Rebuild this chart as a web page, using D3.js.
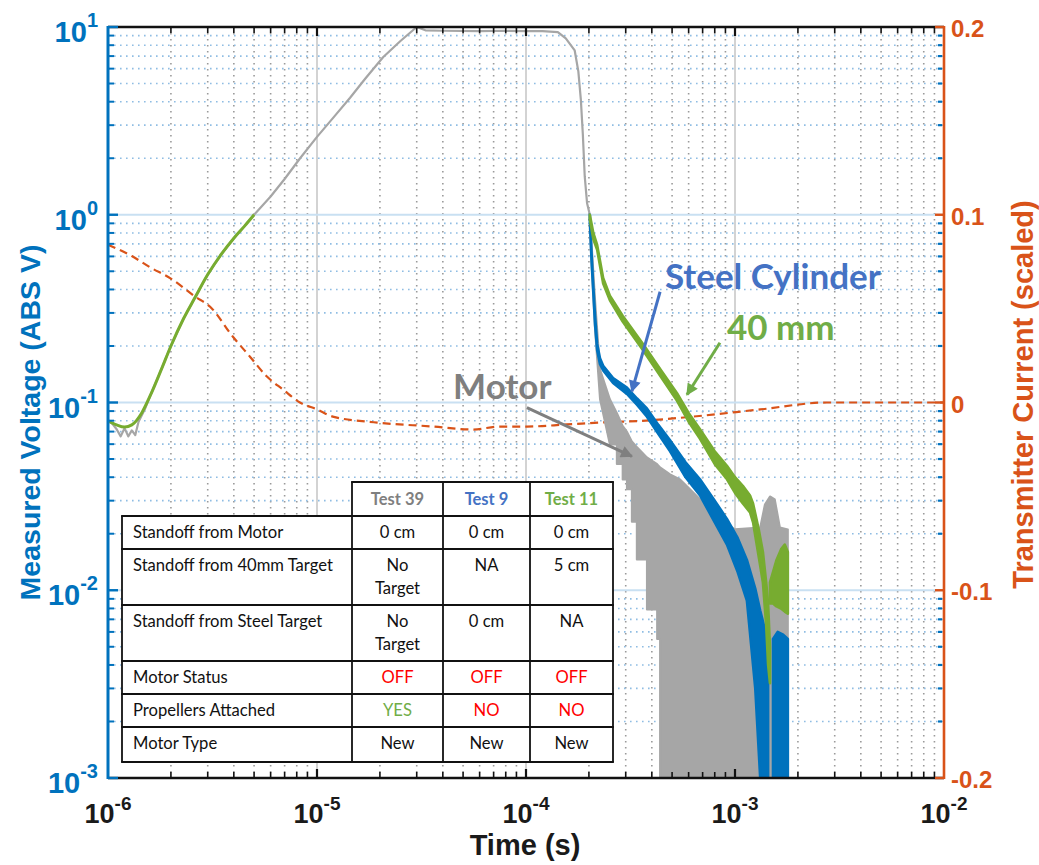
<!DOCTYPE html>
<html>
<head>
<meta charset="utf-8">
<script src="https://cdn.jsdelivr.net/npm/d3@7/dist/d3.min.js"></script>
<style>
  html, body { margin: 0; padding: 0; background: #fff; }
  svg { display: block; }
</style>
</head>
<body>
<svg id="chart" width="1039" height="865"></svg>
<script>
// ---- Data -------------------------------------------------------------
// Test 39 (motor only): rising edge, plateau and turn-off
const motorTime = [1e-6, 1.05e-6, 1.1e-6, 1.15e-6, 1.2e-6, 1.25e-6, 1.3e-6, 1.35e-6, 1.4e-6, 1.5e-6,
  1.6e-6, 1.8e-6, 2e-6, 2.3e-6, 2.6e-6, 3e-6, 3.5e-6, 4e-6, 4.5e-6, 5e-6,
  6e-6, 7e-6, 8.3e-6, 1e-5, 1.2e-5, 1.44e-5, 1.7e-5, 2.07e-5, 2.5e-5, 3.0e-5,
  3.3e-5, 4e-5, 6e-5, 8e-5, 1e-4, 1.2e-4, 1.42e-4, 1.55e-4, 1.71e-4, 1.78e-4,
  1.83e-4, 1.87e-4, 1.91e-4, 1.96e-4, 2.02e-4];
const motorVolt = [0.080, 0.077, 0.072, 0.066, 0.073, 0.066, 0.071, 0.067, 0.079, 0.092,
  0.11, 0.15, 0.2, 0.28, 0.36, 0.48, 0.62, 0.75, 0.87, 1.0,
  1.25, 1.55, 2.0, 2.6, 3.3, 4.2, 5.3, 6.9, 8.4, 10,
  9.6, 9.55, 9.5, 9.55, 9.5, 9.5, 9.4, 8.7, 7.5, 5.8,
  4.1, 2.7, 1.6, 1.15, 1.0];

// Test 39 decay: spread of the noisy record (upper / lower values, stepped)
const motorTailTime = [2.02e-4, 2.14e-4, 2.26e-4, 2.52e-4, 2.72e-4, 2.72e-4, 2.9e-4, 2.9e-4,
  3.04e-4, 3.04e-4, 3.21e-4, 3.21e-4, 3.39e-4, 3.39e-4, 3.79e-4, 3.79e-4, 4.24e-4, 4.24e-4,
  4.38e-4, 4.38e-4, 4.89e-4, 5.46e-4, 6.09e-4, 6.80e-4, 7.59e-4, 8.47e-4,
  1.0e-3, 1.32e-3, 1.39e-3, 1.47e-3, 1.55e-3, 1.64e-3, 1.79e-3];
const motorTailHigh = [1.0, 0.353, 0.150, 0.104, 0.088, 0.088, 0.075, 0.075,
  0.070, 0.070, 0.062, 0.062, 0.058, 0.058, 0.051, 0.051, 0.047, 0.047,
  0.0451, 0.0451, 0.0414, 0.0389, 0.0345, 0.0305, 0.0270, 0.0239,
  0.0211, 0.0216, 0.0286, 0.0316, 0.0305, 0.0216, 0.0211];
const motorTailLow = [0.83, 0.244, 0.104, 0.0598, 0.0598, 0.047, 0.047, 0.0389,
  0.0389, 0.0345, 0.0345, 0.0232, 0.0232, 0.0146, 0.0146, 0.0079, 0.0079, 0.0055,
  0.0055, 0.001, 0.001, 0.001, 0.001, 0.001, 0.001, 0.001,
  0.001, 0.001, 0.001, 0.001, 0.001, 0.001, 0.001];

// Test 9 (steel cylinder) decay
const steelTime = [2.02e-4, 2.06e-4, 2.09e-4, 2.14e-4, 2.19e-4, 2.26e-4, 2.34e-4, 2.61e-4, 3.04e-4,
  3.4e-4, 3.79e-4, 4.3e-4, 4.89e-4, 5.8e-4, 6.8e-4, 8.0e-4, 9.15e-4, 1.03e-3, 1.14e-3,
  1.25e-3, 1.32e-3, 1.40e-3, 1.44e-3];
const steelHigh = [1.0, 0.62, 0.45, 0.29, 0.205, 0.172, 0.157, 0.135, 0.12,
  0.105, 0.093, 0.076, 0.063, 0.048, 0.039, 0.030, 0.024, 0.019, 0.0145,
  0.0102, 0.0078, 0.006, 0.005];
const steelLow = [0.95, 0.56, 0.42, 0.26, 0.19, 0.16, 0.148, 0.127, 0.111,
  0.097, 0.084, 0.068, 0.055, 0.040, 0.032, 0.023, 0.0175, 0.0125, 0.0088,
  0.003, 0.001, 0.001, 0.001];
const steelLateTime = [1.52e-3, 1.6e-3, 1.7e-3, 1.79e-3];
const steelLateHigh = [0.0055, 0.006, 0.0058, 0.0055];
const steelLateLow = [0.001, 0.001, 0.001, 0.001];

// Test 11 (40 mm target): rising edge and decay
const targetRiseTime = [1e-6, 1.1e-6, 1.2e-6, 1.3e-6, 1.45e-6, 1.6e-6, 1.8e-6, 2e-6, 2.3e-6, 2.6e-6,
  3e-6, 3.5e-6, 4e-6, 4.5e-6, 5e-6];
const targetRiseVolt = [0.080, 0.076, 0.074, 0.076, 0.088, 0.11, 0.15, 0.2, 0.28, 0.36,
  0.48, 0.62, 0.75, 0.87, 1.0];
const targetTime = [2.02e-4, 2.1e-4, 2.19e-4, 2.34e-4, 2.52e-4, 2.9e-4, 3.63e-4, 4.4e-4, 5.28e-4,
  6.0e-4, 6.8e-4, 8.0e-4, 9.15e-4, 1.0e-3, 1.09e-3, 1.18e-3, 1.22e-3, 1.3e-3, 1.36e-3,
  1.41e-3, 1.44e-3, 1.47e-3];
const targetHigh = [1.0, 0.8, 0.69, 0.46, 0.37, 0.29, 0.205, 0.15, 0.112,
  0.088, 0.072, 0.055, 0.046, 0.040, 0.036, 0.032, 0.029, 0.021, 0.016,
  0.011, 0.0085, 0.005];
const targetLow = [0.95, 0.74, 0.65, 0.43, 0.35, 0.27, 0.19, 0.138, 0.102,
  0.079, 0.064, 0.047, 0.039, 0.033, 0.029, 0.026, 0.023, 0.015, 0.011,
  0.0065, 0.004, 0.0032];
const targetLateTime = [1.47e-3, 1.52e-3, 1.58e-3, 1.66e-3, 1.73e-3, 1.79e-3];
const targetLateHigh = [0.011, 0.0125, 0.0145, 0.0165, 0.0175, 0.016];
const targetLateLow = [0.0085, 0.0085, 0.0082, 0.008, 0.0077, 0.0075];

// Transmitter current (right axis, scaled)
const currentTime = [1e-6, 1.3e-6, 1.59e-6, 2.0e-6, 2.61e-6, 3.08e-6, 3.96e-6, 4.78e-6, 5.76e-6, 6.88e-6,
  8.29e-6, 1.0e-5, 1.19e-5, 1.94e-5, 3.59e-5, 5.57e-5, 7.51e-5, 1.01e-4, 1.57e-4, 2.26e-4,
  3.9e-4, 6.3e-4, 1.32e-3, 2.75e-3, 5.7e-3, 1e-2];
const currentScaled = [0.084, 0.078, 0.072, 0.066, 0.0564, 0.051, 0.035, 0.0244, 0.0138, 0.0069,
  0.0, -0.0037, -0.0075, -0.0107, -0.0128, -0.0144, -0.0128, -0.0128, -0.0117, -0.0107,
  -0.0095, -0.0075, -0.0037, 0.0, 0.0, 0.0];

// Axis ticks
const timeDecades = [1e-6, 1e-5, 1e-4, 1e-3, 1e-2];
const timeExponents = ["-6", "-5", "-4", "-3", "-2"];
const voltDecades = [1e-3, 1e-2, 1e-1, 1e0, 1e1];
const voltExponents = ["-3", "-2", "-1", "0", "1"];
const currentTicks = [-0.2, -0.1, 0, 0.1, 0.2];
const currentTickLabels = ["-0.2", "-0.1", "0", "0.1", "0.2"];

// Test conditions table
const tableHeader = ["Test 39", "Test 9", "Test 11"];
const tableRows = [
  ["Standoff from Motor", "0 cm", "0 cm", "0 cm"],
  ["Standoff from 40mm Target", "No|Target", "NA", "5 cm"],
  ["Standoff from Steel Target", "No|Target", "0 cm", "NA"],
  ["Motor Status", "OFF", "OFF", "OFF"],
  ["Propellers Attached", "YES", "NO", "NO"],
  ["Motor Type", "New", "New", "New"]
];

// Callouts: label anchor and arrow (time, volts)
const callouts = [
  { text: "Steel Cylinder", color: "#4472C4", at: [4.62e-4, 0.40], from: [4.38e-4, 0.389], to: [3.21e-4, 0.1145] },
  { text: "40 mm", color: "#70AD47", at: [9.15e-4, 0.214], from: [8.47e-4, 0.208], to: [5.89e-4, 0.110] },
  { text: "Motor", color: "#7F7F7F", at: [4.48e-5, 0.104], from: [1.01e-4, 0.094], to: [3.21e-4, 0.0517] }
];

// ---- Layout -------------------------------------------------------------
const plot = { left: 108, right: 944, top: 27, bottom: 778 };
const COLORS = {
  leftAxis: "#0072BD", rightAxis: "#D95319",
  motor: "#A6A6A6", steel: "#0072BD", target: "#77AC30", current: "#D95319"
};
const tickFont = "'Liberation Sans', Arial, Helvetica, sans-serif";
const noteFont = "Lato, 'Open Sans', sans-serif";

const svg = d3.select("#chart");
svg.append("rect").attr("width", 1039).attr("height", 865).attr("fill", "#fff");

const x = d3.scaleLog().domain([1e-6, 1e-2]).range([plot.left, plot.right]);
const y = d3.scaleLog().domain([1e-3, 1e1]).range([plot.bottom, plot.top]);
const y2 = d3.scaleLinear().domain([-0.2, 0.2]).range([plot.bottom, plot.top]);

const minorOf = decades => decades.slice(0, -1).flatMap(d => d3.range(2, 10).map(k => k * d));
const timeMinor = minorOf(timeDecades);
const voltMinor = minorOf(voltDecades);

// ---- Grid -----------------------------------------------------------------
const grid = svg.append("g");
grid.selectAll(".vmin").data(timeMinor).join("line")
  .attr("x1", d => x(d)).attr("x2", d => x(d))
  .attr("y1", plot.top).attr("y2", plot.bottom)
  .attr("stroke", "#9a9a9a").attr("stroke-width", 1.6)
  .attr("stroke-dasharray", "1.6 4.4");
grid.selectAll(".hmin").data(voltMinor).join("line")
  .attr("x1", plot.left).attr("x2", plot.right)
  .attr("y1", d => y(d)).attr("y2", d => y(d))
  .attr("stroke", "#8fbde3").attr("stroke-width", 1.6)
  .attr("stroke-dasharray", "1.6 4.4");
grid.selectAll(".vmaj").data(timeDecades.slice(1, -1)).join("line")
  .attr("x1", d => x(d)).attr("x2", d => x(d))
  .attr("y1", plot.top).attr("y2", plot.bottom)
  .attr("stroke", "#cfcfcf").attr("stroke-width", 1.8);
grid.selectAll(".hmaj").data(voltDecades.slice(1, -1)).join("line")
  .attr("x1", plot.left).attr("x2", plot.right)
  .attr("y1", d => y(d)).attr("y2", d => y(d))
  .attr("stroke", "#c9e0f2").attr("stroke-width", 1.8);

// ---- Data marks -----------------------------------------------------------
svg.append("clipPath").attr("id", "plotClip").append("rect")
  .attr("x", plot.left).attr("y", plot.top - 2)
  .attr("width", plot.right - plot.left).attr("height", plot.bottom - plot.top + 2);
const marks = svg.append("g").attr("clip-path", "url(#plotClip)");

const zip2 = (t, v) => t.map((d, i) => ({ t: d, v: v[i] }));
const zip3 = (t, hi, lo) => t.map((d, i) => ({ t: d, hi: hi[i], lo: lo[i] }));

const line = d3.line().x(d => x(d.t)).y(d => y(d.v));
const smoothLine = d3.line().x(d => x(d.t)).y(d => y(d.v)).curve(d3.curveMonotoneX);
const lineCurrent = d3.line().x(d => x(d.t)).y(d => y2(d.v)).curve(d3.curveMonotoneX);
const band = d3.area().x(d => x(d.t)).y0(d => y(d.lo)).y1(d => y(d.hi));

// transmitter current
marks.append("path").datum(zip2(currentTime, currentScaled))
  .attr("d", lineCurrent).attr("fill", "none")
  .attr("stroke", COLORS.current).attr("stroke-width", 2.2)
  .attr("stroke-dasharray", "8 5");

// motor
marks.append("path").datum(zip2(motorTime, motorVolt))
  .attr("d", line).attr("fill", "none")
  .attr("stroke", COLORS.motor).attr("stroke-width", 2.2).attr("stroke-linejoin", "round");
marks.append("path").datum(zip3(motorTailTime, motorTailHigh, motorTailLow))
  .attr("d", band).attr("fill", COLORS.motor)
  .attr("stroke", COLORS.motor).attr("stroke-width", 2).attr("stroke-linejoin", "round");

// steel cylinder
[zip3(steelTime, steelHigh, steelLow), zip3(steelLateTime, steelLateHigh, steelLateLow)].forEach(seg => {
  marks.append("path").datum(seg).attr("d", band)
    .attr("fill", COLORS.steel).attr("stroke", COLORS.steel)
    .attr("stroke-width", 2.6).attr("stroke-linejoin", "round");
});

// 40 mm target
marks.append("path").datum(zip2(targetRiseTime, targetRiseVolt))
  .attr("d", smoothLine).attr("fill", "none")
  .attr("stroke", COLORS.target).attr("stroke-width", 3).attr("stroke-linejoin", "round");
[zip3(targetTime, targetHigh, targetLow), zip3(targetLateTime, targetLateHigh, targetLateLow)].forEach(seg => {
  marks.append("path").datum(seg).attr("d", band)
    .attr("fill", COLORS.target).attr("stroke", COLORS.target)
    .attr("stroke-width", 2.6).attr("stroke-linejoin", "round");
});

// ---- Axes -----------------------------------------------------------------
const axes = svg.append("g");
// top & bottom frame with inward ticks
[[plot.top, 1], [plot.bottom, -1]].forEach(([yy, dir]) => {
  axes.append("line").attr("x1", plot.left).attr("x2", plot.right)
    .attr("y1", yy).attr("y2", yy).attr("stroke", "#111").attr("stroke-width", 2.6);
  axes.selectAll(null).data(timeDecades.slice(1, -1)).join("line")
    .attr("x1", d => x(d)).attr("x2", d => x(d))
    .attr("y1", yy).attr("y2", yy + dir * 9)
    .attr("stroke", "#111").attr("stroke-width", 2.2);
  axes.selectAll(null).data(timeMinor).join("line")
    .attr("x1", d => x(d)).attr("x2", d => x(d))
    .attr("y1", yy).attr("y2", yy + dir * 6)
    .attr("stroke", "#111").attr("stroke-width", 1.6);
});

// left (voltage) axis
axes.append("line").attr("x1", plot.left).attr("x2", plot.left)
  .attr("y1", plot.top - 1).attr("y2", plot.bottom + 1)
  .attr("stroke", COLORS.leftAxis).attr("stroke-width", 3);
axes.selectAll(null).data(voltDecades).join("line")
  .attr("x1", plot.left).attr("x2", plot.left + 10)
  .attr("y1", d => y(d)).attr("y2", d => y(d))
  .attr("stroke", COLORS.leftAxis).attr("stroke-width", 2.4);
axes.selectAll(null).data(voltMinor).join("line")
  .attr("x1", plot.left).attr("x2", plot.left + 6)
  .attr("y1", d => y(d)).attr("y2", d => y(d))
  .attr("stroke", COLORS.leftAxis).attr("stroke-width", 2);
axes.selectAll(null).data(voltMinor).join("line")
  .attr("x1", plot.right - 6).attr("x2", plot.right - 2)
  .attr("y1", d => y(d)).attr("y2", d => y(d))
  .attr("stroke", COLORS.leftAxis).attr("stroke-width", 2.2);

// right (current) axis
axes.append("line").attr("x1", plot.right).attr("x2", plot.right)
  .attr("y1", plot.top - 1).attr("y2", plot.bottom + 1)
  .attr("stroke", COLORS.rightAxis).attr("stroke-width", 2.6);
axes.selectAll(null).data(currentTicks).join("line")
  .attr("x1", plot.right - 9).attr("x2", plot.right)
  .attr("y1", d => y2(d)).attr("y2", d => y2(d))
  .attr("stroke", COLORS.rightAxis).attr("stroke-width", 2.4);

// tick labels
const powLabel = (sel, base, exp, expSize, rise) => {
  sel.append("tspan").text(base);
  sel.append("tspan").attr("dy", -rise).attr("font-size", expSize).text(exp);
};
voltDecades.forEach((d, i) => {
  const t = svg.append("text").attr("x", 98).attr("y", y(d) + 15)
    .attr("text-anchor", "end").attr("font-family", tickFont).attr("font-weight", "bold")
    .attr("font-size", 29).attr("fill", COLORS.leftAxis);
  powLabel(t, "10", voltExponents[i], 20, 15);
});
timeDecades.forEach((d, i) => {
  const t = svg.append("text").attr("x", x(d)).attr("y", 823)
    .attr("text-anchor", "middle").attr("font-family", tickFont).attr("font-weight", "bold")
    .attr("font-size", 27).attr("fill", "#1a1a1a");
  powLabel(t, "10", timeExponents[i], 19, 13);
});
currentTicks.forEach((d, i) => {
  svg.append("text").attr("x", 951).attr("y", y2(d) + 10)
    .attr("font-family", tickFont).attr("font-weight", "bold")
    .attr("font-size", 24).attr("fill", COLORS.rightAxis).text(currentTickLabels[i]);
});

// axis titles
svg.append("text").attr("transform", `translate(40,${(plot.top + plot.bottom) / 2 + 20}) rotate(-90)`)
  .attr("text-anchor", "middle").attr("font-family", tickFont).attr("font-weight", "bold")
  .attr("font-size", 28.5).attr("fill", COLORS.leftAxis).text("Measured Voltage (ABS V)");
svg.append("text").attr("transform", `translate(1033,${(plot.top + plot.bottom) / 2 - 8}) rotate(-90)`)
  .attr("text-anchor", "middle").attr("font-family", tickFont).attr("font-weight", "bold")
  .attr("font-size", 29).attr("fill", COLORS.rightAxis).text("Transmitter Current (scaled)");
svg.append("text").attr("x", 525).attr("y", 855)
  .attr("text-anchor", "middle").attr("font-family", tickFont).attr("font-weight", "bold")
  .attr("font-size", 29).attr("fill", "#1a1a1a").text("Time (s)");

// ---- Conditions table ----------------------------------------------------------
const colEdges = [122, 352, 443, 530, 613];
const rowEdges = [516, 549, 605, 661, 694, 727, 762];
const headerTop = 482;
const cellColor = v => v === "OFF" || v === "NO" ? "#FF0000" : v === "YES" ? "#70AD47" : "#111";
const headerColors = ["#7F7F7F", "#4472C4", "#70AD47"];
const tbl = svg.append("g").attr("font-family", noteFont);
tbl.append("rect").attr("x", colEdges[1]).attr("y", headerTop)
  .attr("width", colEdges[4] - colEdges[1]).attr("height", rowEdges[0] - headerTop).attr("fill", "#fff");
tbl.append("rect").attr("x", colEdges[0]).attr("y", rowEdges[0])
  .attr("width", colEdges[4] - colEdges[0]).attr("height", rowEdges[6] - rowEdges[0]).attr("fill", "#fff");
const hline = (x1, x2, yy) => tbl.append("line").attr("x1", x1).attr("x2", x2).attr("y1", yy).attr("y2", yy)
  .attr("stroke", "#111").attr("stroke-width", 1.8);
const vline = (xx, y1, y2v) => tbl.append("line").attr("x1", xx).attr("x2", xx).attr("y1", y1).attr("y2", y2v)
  .attr("stroke", "#111").attr("stroke-width", 1.8);
hline(colEdges[1] - 0.9, colEdges[4] + 0.9, headerTop);
rowEdges.forEach(r => hline(colEdges[0] - 0.9, colEdges[4] + 0.9, r));
vline(colEdges[0], rowEdges[0], rowEdges[6]);
colEdges.slice(1).forEach(c => vline(c, headerTop, rowEdges[6]));

tableHeader.forEach((h, i) => {
  tbl.append("text").attr("x", (colEdges[i + 1] + colEdges[i + 2]) / 2).attr("y", headerTop + 23)
    .attr("text-anchor", "middle").attr("font-weight", "bold").attr("font-size", 16.5)
    .attr("fill", headerColors[i]).text(h);
});
tableRows.forEach((row, r) => {
  row.forEach((cell, c) => {
    cell.split("|").forEach((ln, k) => {
      tbl.append("text")
        .attr("x", c === 0 ? colEdges[0] + 11 : (colEdges[c] + colEdges[c + 1]) / 2)
        .attr("y", rowEdges[r] + 22 + k * 23)
        .attr("text-anchor", c === 0 ? "start" : "middle")
        .attr("font-size", 16.6).attr("fill", c === 0 ? "#111" : cellColor(ln)).text(ln);
    });
  });
});

// ---- Callouts -----------------------------------------------------------------
const defs = svg.append("defs");
callouts.forEach((c, i) => {
  defs.append("marker").attr("id", "arrow" + i)
    .attr("viewBox", "0 0 10 10").attr("refX", 9).attr("refY", 5)
    .attr("markerWidth", 14).attr("markerHeight", 12).attr("markerUnits", "userSpaceOnUse")
    .attr("orient", "auto")
    .append("path").attr("d", "M0,0 L10,5 L0,10 Z").attr("fill", c.color);
  svg.append("line")
    .attr("x1", x(c.from[0])).attr("y1", y(c.from[1]))
    .attr("x2", x(c.to[0])).attr("y2", y(c.to[1]))
    .attr("stroke", c.color).attr("stroke-width", 3)
    .attr("marker-end", `url(#arrow${i})`);
  svg.append("text").attr("x", x(c.at[0])).attr("y", y(c.at[1]))
    .attr("font-family", noteFont).attr("font-weight", "bold").attr("font-size", 35)
    .attr("fill", c.color).text(c.text);
});
</script>
</body>
</html>
